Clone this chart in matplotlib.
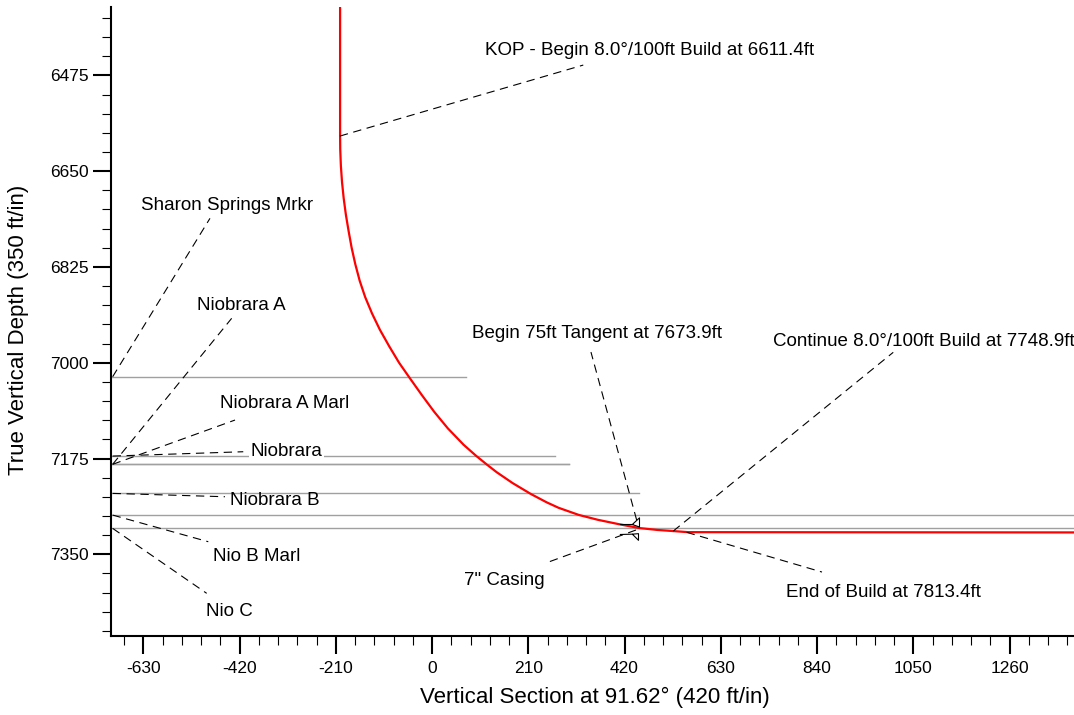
import matplotlib
matplotlib.use("Agg")
import matplotlib.pyplot as plt
from matplotlib.path import Path
from matplotlib.ticker import MultipleLocator

plt.rcParams['font.family'] = ['Liberation Sans', 'DejaVu Sans']
plt.rcParams['axes.unicode_minus'] = False

# well path (vertical section, true vertical depth)
vs = [-200.7, -200.7, -200.4, -199.0, -196.5, -192.8, -188.0, -182.0, -175.5, -167.5,
      -158.0, -146.0, -131.0, -113.7, -93.5, -72.0, -47.0, -21.5, 5.0, 34.5,
      69.0, 96.0, 119.5, 141.0, 176.0, 216.0, 250.0, 276.0, 320.0, 362.0,
      408.0, 452.0, 492.0, 526.0, 558.0, 1400.0]
tvd = [6340, 6586, 6610, 6640, 6670, 6700, 6730, 6760, 6790, 6820,
       6850, 6880, 6910, 6940, 6970, 7000, 7030, 7060, 7090, 7120,
       7150, 7170, 7186, 7200, 7220, 7240, 7255, 7265, 7278, 7287,
       7295, 7302, 7305.5, 7307.5, 7309.5, 7310]

# formation tops
form_names = ["Sharon Springs Mrkr", "Niobrara A", "Niobrara A Marl", "Niobrara",
              "Niobrara B", "Nio B Marl", "Nio C"]
form_tvd = [7025.6, 7185.6, 7185.6, 7170.5, 7238.7, 7278.3, 7302.6]
form_end = [74, 299.6, 299.6, 268.5, 452, 1400, 1400]

# annotated well points
pt_names = ["KOP - Begin 8.0°/100ft Build at 6611.4ft",
            "Begin 75ft Tangent at 7673.9ft",
            "Continue 8.0°/100ft Build at 7748.9ft",
            "End of Build at 7813.4ft",
            '7" Casing']
pt_vs = [-201.1, 446.4, 526.3, 555.5, 444.9]
pt_tvd = [6585.9, 7287.4, 7307.5, 7309.8, 7305.6]

casing_vs = 444.9
casing_tvd = 7303.0

xmin, xmax = -700, 1400
ymin, ymax = 6350, 7500

# label layout (data coords): leader end, text anchor, alignment
form_leader = [(-484.6, 6736.2), (-437.3, 6918.9), (-430, 7104.7), (-412, 7162.6),
               (-451.9, 7244.8), (-488.3, 7327), (-491.8, 7421.3)]
form_text = [(-635.2, 6711.9), (-513.6, 6894.6), (-462.8, 7074.2), (-395.8, 7162.6),
             (-441, 7250.8), (-478.7, 7353.2), (-493.3, 7453.6)]
pt_leader = [(329.9, 6456.2), (346.7, 6980.5), (1006.3, 6981), (850.8, 7382.4), (246.3, 7366.5)]
pt_text = [(115.4, 6428.8, 'left'), (87.1, 6945.7, 'left'), (743.8, 6960.4, 'left'),
           (772.2, 7419, 'left'), (246.0, 7398.3, 'right')]

fig = plt.figure(figsize=(10.74, 7.15), dpi=100)
ax = fig.add_axes([0.1036, 0.1099, 0.8961, 0.8804])

dash = (0, (7.5, 5))

# formation lines
for name, d, e in zip(form_names, form_tvd, form_end):
    ax.plot([xmin, e], [d, d], color='#a0a0a0', lw=1.0, zorder=1)

# well path
ax.plot(vs, tvd, color='red', lw=1.6, zorder=3)

# formation labels
for i, name in enumerate(form_names):
    lx, ly = form_leader[i]
    ax.plot([xmin + 3, lx], [form_tvd[i], ly], color='black', lw=0.8, ls=dash, zorder=4,
            clip_on=False)
    tx, ty = form_text[i]
    bbox = None
    if name == "Niobrara":
        bbox = dict(facecolor='white', edgecolor='none', pad=1)
    ax.text(tx, ty, name, fontsize=13.5, ha='left', va='center', bbox=bbox, zorder=5)

# well point labels
for i, name in enumerate(pt_names):
    lx, ly = pt_leader[i]
    ax.plot([pt_vs[i], lx], [pt_tvd[i], ly], color='black', lw=0.8, ls=dash, zorder=4,
            clip_on=False)
    tx, ty, ha = pt_text[i]
    ax.text(tx, ty, name, fontsize=13.5, ha=ha, va='center', zorder=5, clip_on=False)

# casing shoe symbol
shoe = Path([(-1.0, 0.3), (-0.25, 0.3), (0.18, 0.7), (0.18, 0.15), (-0.25, 0.3),
             (-1.0, -0.3), (-0.25, -0.28), (0.12, -0.65), (0.12, -0.25), (-0.25, -0.28)],
            [Path.MOVETO, Path.LINETO, Path.LINETO, Path.LINETO, Path.LINETO,
             Path.MOVETO, Path.LINETO, Path.LINETO, Path.LINETO, Path.LINETO])
ax.plot([casing_vs], [casing_tvd], marker=shoe, markersize=24, mfc='none', mec='black',
        mew=0.8, ls='none', zorder=6)

ax.set_xlim(xmin, xmax)
ax.set_ylim(ymax, ymin)

ax.xaxis.set_major_locator(MultipleLocator(210))
ax.xaxis.set_minor_locator(MultipleLocator(42))
ax.yaxis.set_major_locator(MultipleLocator(175))
ax.yaxis.set_minor_locator(MultipleLocator(35))

ax.spines['top'].set_visible(False)
ax.spines['right'].set_visible(False)
ax.spines['left'].set_linewidth(1.5)
ax.spines['bottom'].set_linewidth(1.5)
ax.tick_params(which='major', direction='out', length=13, width=1.5, labelsize=12.5, pad=3)
ax.tick_params(axis='x', which='major', pad=5)
ax.tick_params(which='minor', direction='out', length=6.5, width=0.8)

fig.text(0.554, 0.025, "Vertical Section at 91.62° (420 ft/in)", fontsize=16,
         ha='center', va='center')
fig.text(0.017, 0.538, "True Vertical Depth (350 ft/in)", fontsize=16,
         ha='center', va='center', rotation=90)

fig.savefig("out.png", dpi=100)
